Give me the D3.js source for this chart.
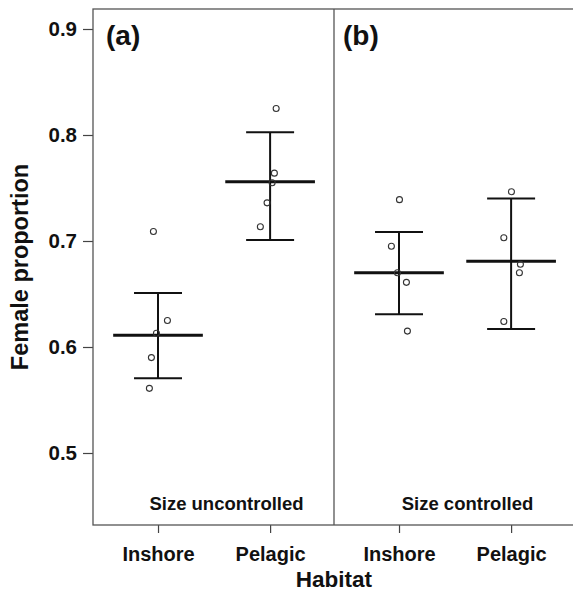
<!DOCTYPE html>
<html lang="en">
<head>
<meta charset="utf-8">
<title>Female proportion by habitat</title>
<script src="https://cdn.jsdelivr.net/npm/d3@7"></script>
<style>
  body { margin: 0; background: #fff; }
  svg text { font-family: "Liberation Sans", Arial, sans-serif; font-weight: bold; fill: #111; }
  .axis path { display: none; }
  .axis line { stroke: #444; stroke-width: 1.2; }
</style>
</head>
<body>
<script>
// data
var panelTags = ["(a)", "(b)"];
var panelNotes = ["Size uncontrolled", "Size controlled"];
var habitats = ["Inshore", "Pelagic"];
var yTicks = [0.5, 0.6, 0.7, 0.8, 0.9];
var meanVals  = [[0.611, 0.756], [0.670, 0.681]];
var upperVals = [[0.651, 0.8025], [0.7085, 0.740]];
var lowerVals = [[0.5705, 0.701], [0.631, 0.617]];
var pointVals = [
  [[0.709, 0.625, 0.613, 0.590, 0.561], [0.825, 0.764, 0.755, 0.736, 0.7135]],
  [[0.739, 0.695, 0.670, 0.661, 0.615], [0.7465, 0.703, 0.678, 0.670, 0.624]]
];
// horizontal jitter of the points, in x units (groups sit at 1 and 2)
var jitter = [
  [[-0.041, 0.084, -0.014, -0.059, -0.077], [0.054, 0.038, 0.018, -0.027, -0.087]],
  [[0.004, -0.068, -0.014, 0.066, 0.075], [0.003, -0.065, 0.083, 0.074, -0.065]]
];
var groupPos = [1, 2];

var w = 573, h = 591;
var marginLeft = 93, plotTop = 9, panelW = 241, plotBottom = 525;

var svg = d3.select("body").append("svg")
  .attr("width", w).attr("height", h);

var yScale = d3.scaleLinear().domain([0.5, 0.9]).range([453, 29]);

var yAxis = d3.axisLeft(yScale).tickValues(yTicks).tickSize(10).tickPadding(6)
  .tickFormat(d3.format(".1f"));
var gy = svg.append("g").attr("class", "axis")
  .attr("transform", "translate(" + marginLeft + ",0)")
  .call(yAxis);
gy.selectAll("text").style("font-size", "20.5px");

panelTags.forEach(function(tag, p) {
  var x0 = marginLeft + p * panelW;
  var xScale = d3.scaleLinear().domain([0.42, 2.57]).range([x0, x0 + panelW]);
  var g = svg.append("g");

  var xAxis = d3.axisBottom(xScale).tickValues(groupPos).tickSize(8).tickPadding(14)
    .tickFormat(function(d, i) { return habitats[i]; });
  var gx = g.append("g").attr("class", "axis")
    .attr("transform", "translate(0," + plotBottom + ")")
    .call(xAxis);
  gx.selectAll("text").style("font-size", "20px");

  g.append("text")
    .attr("x", x0 + (p === 0 ? 13 : 9))
    .attr("y", 45)
    .style("font-size", "28px")
    .text(tag);

  g.append("text")
    .attr("x", x0 + 133.5)
    .attr("y", 510)
    .attr("text-anchor", "middle")
    .style("font-size", "18.5px")
    .text(panelNotes[p]);

  habitats.forEach(function(hab, k) {
    var cx = xScale(groupPos[k]);
    var cap = xScale(groupPos[k] + 0.214) - cx;
    var half = xScale(groupPos[k] + 0.40) - cx;

    g.append("line")
      .attr("x1", cx).attr("x2", cx)
      .attr("y1", yScale(upperVals[p][k])).attr("y2", yScale(lowerVals[p][k]))
      .attr("stroke", "#111").attr("stroke-width", 2);
    [upperVals[p][k], lowerVals[p][k]].forEach(function(v) {
      g.append("line")
        .attr("x1", cx - cap).attr("x2", cx + cap)
        .attr("y1", yScale(v)).attr("y2", yScale(v))
        .attr("stroke", "#111").attr("stroke-width", 2);
    });
    g.append("line")
      .attr("x1", cx - half).attr("x2", cx + half)
      .attr("y1", yScale(meanVals[p][k])).attr("y2", yScale(meanVals[p][k]))
      .attr("stroke", "#111").attr("stroke-width", 3);

    g.selectAll("circle.p" + k)
      .data(pointVals[p][k])
      .enter().append("circle")
      .attr("class", "p" + k)
      .attr("cx", function(d, i) { return xScale(groupPos[k] + jitter[p][k][i]); })
      .attr("cy", function(d) { return yScale(d); })
      .attr("r", 3)
      .attr("fill", "none")
      .attr("stroke", "#333")
      .attr("stroke-width", 1.1);
  });
});

// frame and panel divider
svg.append("rect")
  .attr("x", marginLeft).attr("y", plotTop)
  .attr("width", panelW * 2 + 4).attr("height", plotBottom - plotTop)
  .attr("fill", "none").attr("stroke", "#555").attr("stroke-width", 1.3);
svg.append("line")
  .attr("x1", marginLeft + panelW).attr("x2", marginLeft + panelW)
  .attr("y1", plotTop).attr("y2", plotBottom)
  .attr("stroke", "#555").attr("stroke-width", 1.3);

svg.append("text")
  .attr("transform", "translate(28,267) rotate(-90)")
  .attr("text-anchor", "middle")
  .style("font-size", "23.5px")
  .text("Female proportion");

svg.append("text")
  .attr("x", 334).attr("y", 587)
  .attr("text-anchor", "middle")
  .style("font-size", "22.5px")
  .text("Habitat");
</script>
</body>
</html>
